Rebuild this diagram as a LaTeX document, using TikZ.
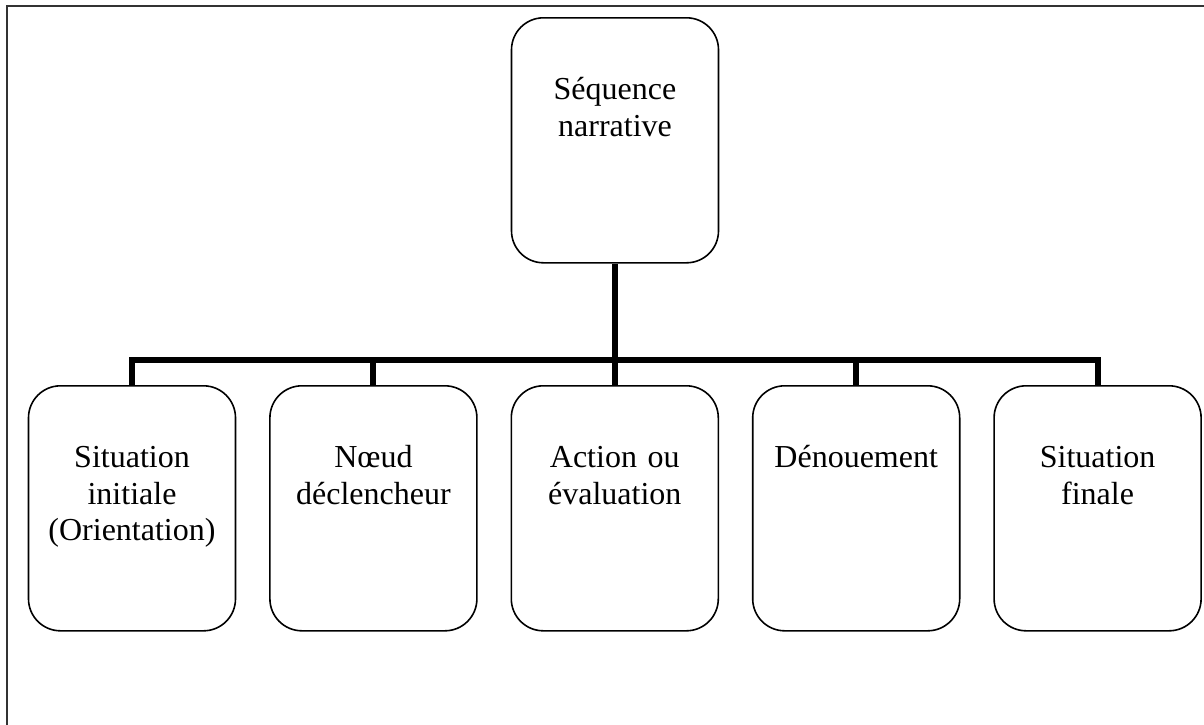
\documentclass[tikz,border=0pt]{standalone}
\usepackage{fontspec}
\setmainfont{Liberation Serif}
\begin{document}
\begin{tikzpicture}[x=1pt,y=-1pt,
  stage/.style={draw, line width=1.6pt, rounded corners=32pt, inner sep=0pt,
    text width=207pt, align=center, text height=82pt, text depth=163pt,
    anchor=north, font=\fontsize{32}{36.5}\selectfont},
  link/.style={line width=6pt}]
\useasboundingbox (0,0) rectangle (1204,724);
% page frame (only the top and left edges fall inside the picture)
\draw[line width=2pt, black!80] (7,800) -- (7,6) -- (1300,6);

\node[stage] (seq) at (615,17) {Séquence\\narrative};
\node[stage] (b1) at (132,385)    {Situation\\initiale\\(Orientation)};
\node[stage] (b2) at (373.4,385)  {Nœud\\déclencheur};
\node[stage] (b3) at (614.8,385)  {Action ou\\évaluation};
\node[stage] (b4) at (856.2,385)  {Dénouement};
\node[stage] (b5) at (1097.6,385) {Situation\\finale};

\coordinate (hub) at (615,360);
\draw[link] (seq.south) -- (hub);
\foreach \b in {b1,b2,b3,b4,b5}
  \draw[link] (hub) -| (\b.north);
\end{tikzpicture}
\end{document}
